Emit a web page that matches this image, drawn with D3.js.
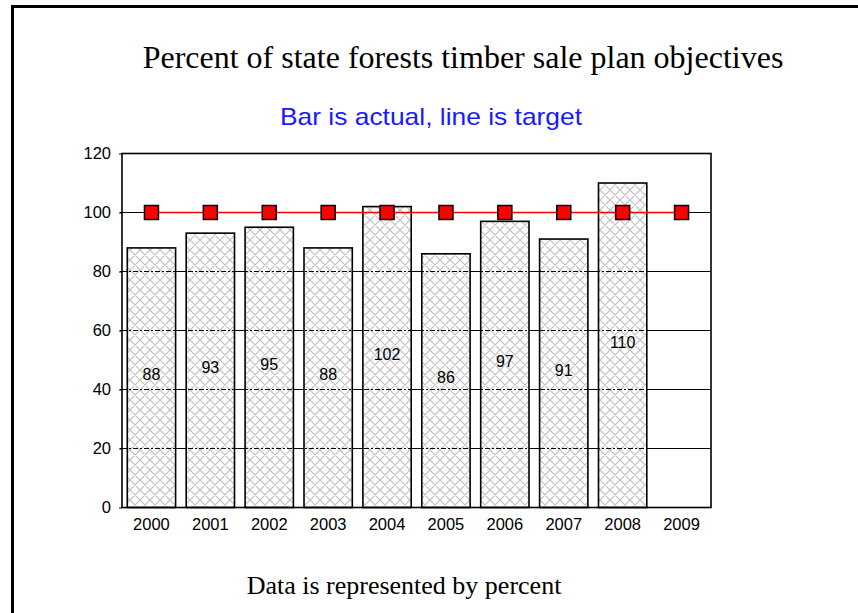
<!DOCTYPE html>
<html><head><meta charset="utf-8">
<script src="https://cdn.jsdelivr.net/npm/d3@7"></script>
<style>body{margin:0;background:#fff}svg{display:block}</style>
</head><body>
<script>
const years = ["2000","2001","2002","2003","2004","2005","2006","2007","2008","2009"];
const actual = [88, 93, 95, 88, 102, 86, 97, 91, 110, null];
const target = [100, 100, 100, 100, 100, 100, 100, 100, 100, 100];
const yTicks = [0, 20, 40, 60, 80, 100, 120];
const titleText = "Percent of state forests timber sale plan objectives";
const subtitleText = "Bar is actual, line is target";
const footerText = "Data is represented by percent";

const W = 858, H = 613;
const svg = d3.select("body").append("svg").attr("width", W).attr("height", H);
const m = {left: 122, right: 711, top: 153.5, bottom: 507.5};

const defs = svg.append("defs");
const P = 10;
const pat = defs.append("pattern").attr("id","hatch").attr("patternUnits","userSpaceOnUse")
  .attr("width",P).attr("height",P);
pat.append("rect").attr("width",P).attr("height",P).attr("fill","#fff");
pat.append("path").attr("d",`M0,0L${P},${P}M0,${P}L${P},0M-1,1L1,-1M${P-1},${P+1}L${P+1},${P-1}M-1,${P-1}L1,${P+1}M${P-1},-1L${P+1},1`)
  .attr("stroke","#c0c0c0").attr("stroke-width",1.2);

// outer border
svg.append("rect").attr("x",12.5).attr("y",6.5).attr("width",1000).attr("height",1000)
  .attr("fill","none").attr("stroke","#000").attr("stroke-width",3);

const x = d3.scaleBand().domain(years).range([m.left, m.right]).paddingInner(0.18).paddingOuter(0.09);
const xc = d => x(d) + x.bandwidth()/2;
const y = d3.scaleLinear().domain([0,120]).range([m.bottom, m.top]);
const sans = "Liberation Sans, Arial, sans-serif";
const serif = "Liberation Serif, Times New Roman, serif";

// solid gridlines
svg.append("g").selectAll("line").data(yTicks.slice(1,-1)).join("line")
  .attr("x1",m.left-2).attr("x2",m.right).attr("y1",d=>y(d)).attr("y2",d=>y(d))
  .attr("stroke","#000").attr("stroke-width",1.2);

// bars
const data = years.map((yr,i)=>({yr, v: actual[i], t: target[i]}));
svg.append("g").selectAll("rect").data(data.filter(d=>d.v!=null)).join("rect")
  .attr("x",d=>x(d.yr)).attr("width",x.bandwidth())
  .attr("y",d=>y(d.v)).attr("height",d=>y(0)-y(d.v))
  .attr("fill","url(#hatch)").attr("stroke","#000").attr("stroke-width",1.6);

// dashed gridlines over bars
svg.append("g").selectAll("line").data(yTicks.slice(1,-1)).join("line")
  .attr("x1",m.left).attr("x2",m.right).attr("y1",d=>y(d)).attr("y2",d=>y(d))
  .attr("stroke","#000").attr("stroke-width",1.2).attr("stroke-dasharray","5,2,2,2");

// frame
svg.append("rect").attr("x",m.left).attr("y",m.top).attr("width",m.right-m.left).attr("height",m.bottom-m.top)
  .attr("fill","none").attr("stroke","#000").attr("stroke-width",1.6);

// value labels
svg.append("g").selectAll("text").data(data.filter(d=>d.v!=null)).join("text")
  .attr("x",d=>xc(d.yr)).attr("y",d=>y(d.v/2)-3)
  .attr("text-anchor","middle").attr("dominant-baseline","central")
  .attr("font-family",sans).attr("font-size",16)
  .text(d=>d.v);

// target line
const line = d3.line().x(d=>xc(d.yr)).y(d=>y(d.t));
svg.append("path").datum(data).attr("d",line).attr("fill","none")
  .attr("stroke","#ff0000").attr("stroke-width",1.5);
svg.append("g").selectAll("rect").data(data).join("rect")
  .attr("x",d=>xc(d.yr)-7).attr("y",d=>y(d.t)-7).attr("width",14).attr("height",14)
  .attr("fill","#ff0000").attr("stroke","#000").attr("stroke-width",1.5);

// axes
const yAxis = d3.axisLeft(y).tickValues(yTicks).tickSize(3).tickPadding(8);
const gy = svg.append("g").attr("transform",`translate(${m.left},0)`).call(yAxis);
gy.select(".domain").remove();
gy.selectAll("text").attr("font-family",sans).attr("font-size",16.5).attr("fill","#000");
const xAxis = d3.axisBottom(x).tickSize(0).tickPadding(11);
const gx = svg.append("g").attr("transform",`translate(0,${m.bottom})`).call(xAxis);
gx.select(".domain").remove();
gx.selectAll("text").attr("font-family",sans).attr("font-size",16.5).attr("fill","#000");

// titles
svg.append("text").attr("x",463).attr("y",68).attr("text-anchor","middle")
  .attr("font-family",serif).attr("font-size",32)
  .text(titleText);
svg.append("text").attr("x",431).attr("y",125).attr("text-anchor","middle")
  .attr("font-family",sans).attr("font-size",24).attr("fill","#1a1aff")
  .attr("textLength",302).attr("lengthAdjust","spacingAndGlyphs")
  .text(subtitleText);
svg.append("text").attr("x",404).attr("y",594).attr("text-anchor","middle")
  .attr("font-family",serif).attr("font-size",26)
  .text(footerText);
</script>
</body></html>
